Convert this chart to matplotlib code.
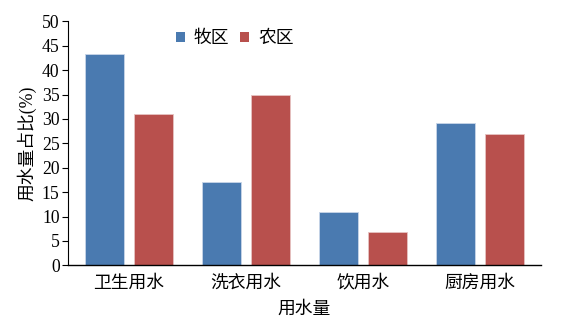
import matplotlib
matplotlib.use('Agg')
import matplotlib.pyplot as plt
import numpy as np

# 数据
categorias = ['卫生用水', '洗衣用水', '饮用水', '厨房用水']
muqu = [43.2, 17.1, 11.0, 29.1]
nongqu = [31.0, 35.0, 6.8, 26.9]
yticks = [0, 5, 10, 15, 20, 25, 30, 35, 40, 45, 50]

cjk = ['Noto Sans CJK SC', 'DejaVu Sans']
mixto = ['Liberation Serif', 'Noto Sans CJK SC']
num_font = 'Liberation Serif'

fig = plt.figure(figsize=(5.81, 3.25), dpi=100)
ax = fig.add_axes([68 / 581, 1 - 265.3 / 325, (541 - 68) / 581, 244 / 325])

x = np.arange(len(categorias))
w = 0.335
off = 0.208
ax.bar(x - off, muqu, w, color='#4A7AB0', edgecolor='#c9d6e8', linewidth=0.6, label='牧区')
ax.bar(x + off, nongqu, w, color='#B8504D', edgecolor='#e6c3c2', linewidth=0.6, label='农区')

ax.set_xlim(-0.52, 3.52)
ax.set_ylim(0, 50)
ax.set_yticks(yticks)
ax.set_yticklabels([str(v) for v in yticks], fontfamily=num_font, fontsize=12.7)
ax.set_xticks(x)
ax.set_xticklabels(categorias, fontfamily=cjk, fontsize=12.8, fontweight='light')
ax.tick_params(axis='x', length=0, pad=6)
ax.tick_params(axis='y', direction='out', length=4, width=0.8, pad=2)

for s in ['top', 'right']:
    ax.spines[s].set_visible(False)
ax.spines['left'].set_linewidth(0.8)
ax.spines['bottom'].set_linewidth(1.0)

ax.set_ylabel('用水量占比(%)', fontfamily=mixto, fontsize=12.8, fontweight='light', labelpad=4)
ax.set_xlabel('用水量', fontfamily=cjk, fontsize=12.8, fontweight='light', labelpad=6)

leg = ax.legend(loc='center left', bbox_to_anchor=(0.21, 0.93), ncol=2, frameon=False,
                prop={'family': cjk, 'size': 12.8, 'weight': 'light'}, borderpad=0,
                handlelength=0.5, handleheight=0.5, handletextpad=0.5, columnspacing=0.6)
for h in leg.legend_handles:
    h.set_edgecolor('none')

fig.savefig('out.png', dpi=100)
